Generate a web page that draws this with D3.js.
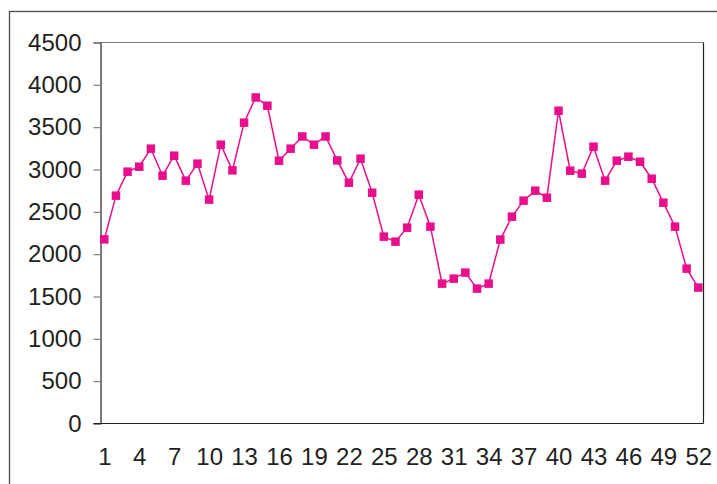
<!DOCTYPE html>
<html>
<head>
<meta charset="utf-8">
<script src="https://cdn.jsdelivr.net/npm/d3@7"></script>
<style>
  html, body { margin: 0; padding: 0; background: #fff; }
  svg { display: block; }
  text { font-family: "Liberation Sans", Arial, sans-serif; fill: #231f20; }
</style>
</head>
<body>
<svg id="chart" width="717" height="484"></svg>
<script>
// ---- data ----
const weeks = d3.range(1, 53);
const values = [
  2175, 2691, 2974, 3033, 3246, 2927, 3163, 2868, 3069, 2644,
  3293, 2990, 3553, 3851, 3753, 3104, 3246, 3390, 3293, 3390,
  3107, 2844, 3128, 2726, 2207, 2148, 2313, 2703, 2325, 1652,
  1711, 1782, 1593, 1652, 2172, 2443, 2632, 2750, 2667, 3694,
  2986, 2951, 3269, 2868, 3104, 3151, 3092, 2891, 2608, 2325,
  1829, 1605
];
const yTicks = [0, 500, 1000, 1500, 2000, 2500, 3000, 3500, 4000, 4500];
const xTickLabels = [1, 4, 7, 10, 13, 16, 19, 22, 25, 28, 31, 34, 37, 40, 43, 46, 49, 52];

// ---- layout ----
const svg = d3.select("#chart");
const plot = { left: 100.5, right: 703.5, top: 42.5, bottom: 423.5 };
const color = "#E90E8B";
const fontSize = 24;

const x = d3.scalePoint().domain(weeks).range([104.3, 698.3]);
const y = d3.scaleLinear().domain([0, 4500]).range([plot.bottom, plot.top]);

// outer frame (clipped by window)
svg.append("rect")
  .attr("x", 9.5).attr("y", 11.5)
  .attr("width", 740).attr("height", 500)
  .attr("fill", "none").attr("stroke", "#4a4a4a").attr("stroke-width", 1.3);

// plot border: top gray, right dark
svg.append("line")
  .attr("x1", plot.left).attr("x2", plot.right)
  .attr("y1", plot.top).attr("y2", plot.top)
  .attr("stroke", "#808080").attr("stroke-width", 1.2);
svg.append("line")
  .attr("x1", plot.right).attr("x2", plot.right)
  .attr("y1", plot.top).attr("y2", plot.bottom)
  .attr("stroke", "#222").attr("stroke-width", 1.2);

// y axis
const yAxis = d3.axisLeft(y).tickValues(yTicks).tickSize(7).tickPadding(12).tickFormat(d3.format("d"));
const gy = svg.append("g").attr("transform", `translate(${plot.left},0)`).call(yAxis);
gy.select(".domain").attr("stroke", "#222").attr("stroke-width", 1.2);
gy.selectAll(".tick line").attr("stroke", "#808080").attr("stroke-width", 1.2);
gy.selectAll(".tick text")
  .attr("font-size", fontSize).attr("fill", "#231f20")
  .style("font-family", "'Liberation Sans', Arial, sans-serif");

// x axis
const xAxis = d3.axisBottom(x).tickValues(xTickLabels).tickSize(0).tickPadding(24);
const gx = svg.append("g").attr("transform", `translate(0,${plot.bottom})`).call(xAxis);
gx.select(".domain").remove();
gx.selectAll(".tick text")
  .attr("font-size", fontSize).attr("fill", "#231f20")
  .style("font-family", "'Liberation Sans', Arial, sans-serif");
svg.append("line")
  .attr("x1", plot.left - 7).attr("x2", plot.right)
  .attr("y1", plot.bottom).attr("y2", plot.bottom)
  .attr("stroke", "#222").attr("stroke-width", 1.2);

// series line
const line = d3.line().x((d, i) => x(weeks[i])).y(d => y(d));
svg.append("path")
  .datum(values)
  .attr("d", line)
  .attr("fill", "none")
  .attr("stroke", color)
  .attr("stroke-width", 1.5);

// markers
const ms = 8.5;
svg.append("g").selectAll("rect")
  .data(values)
  .join("rect")
  .attr("x", (d, i) => x(weeks[i]) - ms / 2)
  .attr("y", d => y(d) - ms / 2)
  .attr("width", ms).attr("height", ms)
  .attr("fill", color);
</script>
</body>
</html>
